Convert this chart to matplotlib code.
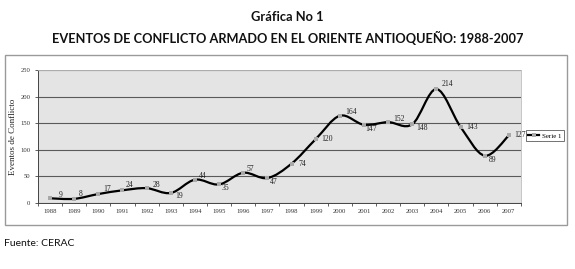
import matplotlib
matplotlib.use('Agg')
import matplotlib.pyplot as plt
from matplotlib.path import Path
from matplotlib.patches import PathPatch, Rectangle
from matplotlib.lines import Line2D

# Data
years = ['1988', '1989', '1990', '1991', '1992', '1993', '1994', '1995', '1996', '1997',
         '1998', '1999', '2000', '2001', '2002', '2003', '2004', '2005', '2006', '2007']
eventos = [9, 8, 17, 24, 28, 19, 44, 35, 57, 47, 74, 120, 164, 147, 152, 148, 214, 143, 89, 127]
y_ticks = [0, 50, 100, 150, 200, 250]

# Label offsets (pixels right, pixels down) so the numbers sit where the original puts them
LABEL_OFFSETS = [(8, -3), (4, -5), (6, -5), (4, -5), (7, -3), (6, 3), (5, -4), (4, 4), (4, -4), (4, 4),
                 (8, 0), (9, 0), (8, -4), (4, 4), (8, -3), (7, 4), (8, -5), (9, 0), (5, 4), (8, 0)]

SERIF = 'Liberation Serif'
TITLE_FONT = ['Lato', 'DejaVu Sans']

fig = plt.figure(figsize=(5.75, 2.69), dpi=100)
fig.patch.set_facecolor('white')

# Outer frame around the chart
fig.patches.append(Rectangle((0.008, 0.162), 0.978, 0.634, transform=fig.transFigure,
                             facecolor='white', edgecolor='#9a9a9a', linewidth=1.0, zorder=-5))

ax = fig.add_axes([0.066, 0.245, 0.840, 0.495])
ax.set_facecolor('#e4e4e4')

xs = [i + 0.5 for i in range(len(eventos))]

# Smoothed line (Excel style): cubic Bezier segments through each point
verts = [(xs[0], eventos[0])]
codes = [Path.MOVETO]
n = len(xs)
for i in range(n - 1):
    x0, y0 = xs[max(i - 1, 0)], eventos[max(i - 1, 0)]
    x1, y1 = xs[i], eventos[i]
    x2, y2 = xs[i + 1], eventos[i + 1]
    x3, y3 = xs[min(i + 2, n - 1)], eventos[min(i + 2, n - 1)]
    c1 = (x1 + (x2 - x0) / 6, y1 + (y2 - y0) / 6)
    c2 = (x2 - (x3 - x1) / 6, y2 - (y3 - y1) / 6)
    verts += [c1, c2, (x2, y2)]
    codes += [Path.CURVE4] * 3
ax.add_patch(PathPatch(Path(verts, codes), facecolor='none', edgecolor='black',
                       linewidth=1.6, zorder=3))
ax.plot(xs, eventos, linestyle='none', marker='s', markersize=2.2, color='#a8a8a8',
        markeredgewidth=0, zorder=4)

for x, v, (dx, dy) in zip(xs, eventos, LABEL_OFFSETS):
    ax.annotate(str(v), (x, v), xytext=(dx * 0.72 + 2, -dy * 0.72), textcoords='offset points',
                ha='center', va='center', fontsize=5.5, family=SERIF, color='#222222', zorder=5)

ax.set_xlim(0, len(eventos))
ax.set_ylim(0, 250)
ax.set_yticks(y_ticks)
ax.set_yticklabels([str(t) for t in y_ticks], fontsize=4.8, family=SERIF, color='#333333')
ax.set_xticks([i + 0.5 for i in range(len(years))])
ax.set_xticklabels(years, fontsize=4.8, family=SERIF, color='#333333')
ax.set_xticks(range(len(years) + 1), minor=True)
ax.tick_params(axis='x', which='major', length=0, pad=4)
ax.tick_params(axis='x', which='minor', length=2.5, width=0.6, color='#444444', direction='out')
ax.tick_params(axis='y', length=2.5, width=0.6, color='#444444', pad=3)

ax.yaxis.grid(True, color='#5a5a5a', linewidth=0.8)
ax.set_axisbelow(True)
for side in ['top', 'right']:
    ax.spines[side].set_color('#bdbdbd')
    ax.spines[side].set_linewidth(0.6)
ax.spines['left'].set_color('#444444')
ax.spines['bottom'].set_color('#444444')
ax.spines['left'].set_linewidth(0.7)
ax.spines['bottom'].set_linewidth(0.7)

ax.set_ylabel('Eventos de Conflicto', fontsize=6.5, family=SERIF, color='#222222', labelpad=2)

handle = Line2D([], [], color='black', linewidth=1.6, marker='s', markersize=2.2,
                markerfacecolor='#a8a8a8', markeredgewidth=0)
leg = fig.legend(handles=[handle], labels=['Serie 1'], loc='center left',
                 bbox_to_anchor=(0.914, 0.495), prop={'family': SERIF, 'size': 5},
                 frameon=True, fancybox=False, handlelength=1.6, handletextpad=0.4,
                 borderpad=0.35, borderaxespad=0)
leg.get_frame().set_edgecolor('#333333')
leg.get_frame().set_linewidth(0.6)

fig.text(0.5, 0.935, 'Gráfica No 1', ha='center', va='center', fontsize=9.3,
         family=TITLE_FONT, weight='bold', color='#111111')
fig.text(0.5, 0.86, 'EVENTOS DE CONFLICTO ARMADO EN EL ORIENTE ANTIOQUEÑO: 1988-2007',
         ha='center', va='center', fontsize=9.2, family=TITLE_FONT, weight='bold', color='#111111')
fig.text(0.007, 0.095, 'Fuente: CERAC', ha='left', va='center', fontsize=7.5,
         family=TITLE_FONT, color='#111111')

fig.savefig('out.png', dpi=100)
